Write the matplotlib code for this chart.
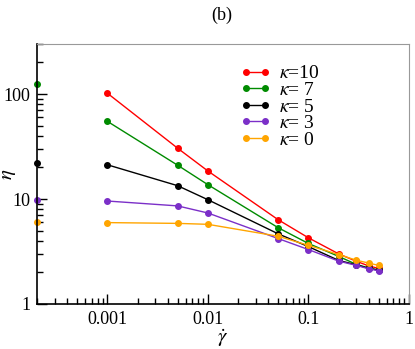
import numpy as np
import matplotlib.pyplot as plt
from matplotlib.ticker import LogLocator, NullFormatter, FixedLocator, FixedFormatter

plt.rcParams['font.family'] = ['Liberation Serif', 'DejaVu Serif']
plt.rcParams['mathtext.fontset'] = 'stix'

# shear rates
rates = [0.001, 0.005, 0.01, 0.05, 0.1, 0.2, 0.3, 0.4, 0.5]

# viscosity for each kappa
eta_k10 = [102, 30.5, 18.5, 6.35, 4.27, 3.0, 2.55, 2.3, 2.18]
eta_k7 = [55, 21, 13.7, 5.33, 3.77, 2.84, 2.38, 2.2, 2.1]
eta_k5 = [21.2, 13.4, 9.85, 4.66, 3.52, 2.6, 2.36, 2.18, 2.1]
eta_k3 = [9.57, 8.6, 7.36, 4.2, 3.3, 2.56, 2.33, 2.16, 2.07]
eta_k0 = [5.96, 5.86, 5.74, 4.42, 3.62, 2.96, 2.61, 2.45, 2.33]

# points sitting on the left axis
edge_rate = 0.0002
edge_eta = {'k7': 125, 'k5': 22, 'k3': 9.8, 'k0': 6.0}

labels = [r'$\kappa$=10', r'$\kappa$= 7', r'$\kappa$= 5', r'$\kappa$= 3', r'$\kappa$= 0']
colors = ['#ff0000', '#008b00', '#000000', '#7b2fc8', '#ffa500']

fig = plt.figure(figsize=(4.15, 3.49), dpi=100)
ax = fig.add_axes([0.0892, 0.129, 0.8963, 0.745])

series = [eta_k10, eta_k7, eta_k5, eta_k3, eta_k0]
for ys, lab, c in zip(series, labels, colors):
    ax.plot(rates, ys, '-o', color=c, lw=1.0, ms=4, label=lab)

for key, c in zip(['k7', 'k5', 'k3', 'k0'], colors[1:]):
    ax.plot([edge_rate], [edge_eta[key]], 'o', color=c, ms=4, clip_on=False)

ax.set_xscale('log')
ax.set_yscale('log')
ax.set_xlim(0.0002, 1)
ax.set_ylim(1, 300)

ax.xaxis.set_major_locator(FixedLocator([0.001, 0.01, 0.1, 1]))
ax.xaxis.set_major_formatter(FixedFormatter(['0.001', '0.01', '0.1', '1']))
ax.xaxis.set_minor_locator(LogLocator(base=10, subs=np.arange(2, 10), numticks=20))
ax.xaxis.set_minor_formatter(NullFormatter())
ax.yaxis.set_major_locator(FixedLocator([1, 10, 100]))
ax.yaxis.set_major_formatter(FixedFormatter(['1', '10', '100']))
ax.yaxis.set_minor_locator(LogLocator(base=10, subs=np.arange(2, 10), numticks=20))
ax.yaxis.set_minor_formatter(NullFormatter())

ax.tick_params(which='both', direction='in', top=False, right=False, labelsize=13, width=1)
ax.tick_params(which='major', length=7, pad=5)
ax.tick_params(which='minor', length=4)

for s in ['top', 'right']:
    ax.spines[s].set_color('#999999')
for s in ['left', 'bottom']:
    ax.spines[s].set_linewidth(1.2)

ax.set_xlabel(r'$\dot{\gamma}$', fontsize=15)
ax.set_ylabel(r'$\eta$', fontsize=15)
ax.xaxis.set_label_coords(0.5, -0.09)
ax.yaxis.set_label_coords(-0.05, 0.5)
fig.text(0.535, 0.955, '(b)', ha='center', va='center', fontsize=13)

ax.legend(loc='upper left', bbox_to_anchor=(0.545, 0.92), frameon=False, numpoints=2,
          fontsize=14, handlelength=1.6, handletextpad=0.4, labelspacing=-0.05,
          borderaxespad=0, borderpad=0)

fig.savefig('out.png', dpi=100)
